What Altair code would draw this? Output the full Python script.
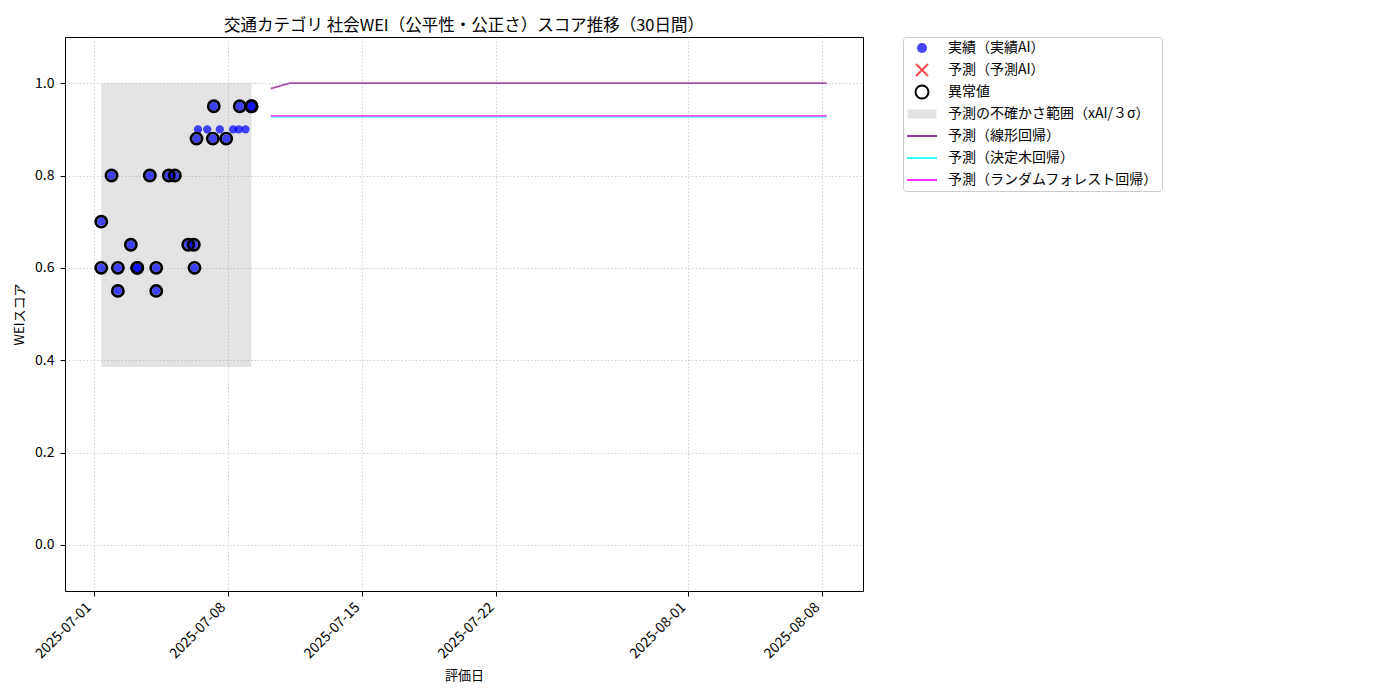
import altair as alt
import pandas as pd

FONT = "Noto Sans CJK JP"

# ---- actual scores (実績) ----
actual_dates = [
    "2025-07-01T09:23:00", "2025-07-01T09:23:00", "2025-07-01T22:16:00",
    "2025-07-02T06:10:00", "2025-07-02T06:10:00", "2025-07-02T22:25:00",
    "2025-07-03T06:26:00", "2025-07-03T06:26:00", "2025-07-03T22:12:00",
    "2025-07-04T06:13:00", "2025-07-04T06:13:00", "2025-07-04T21:59:00",
    "2025-07-05T05:28:00", "2025-07-05T22:15:00", "2025-07-06T05:15:00",
    "2025-07-06T06:07:00", "2025-07-06T08:37:00", "2025-07-06T10:30:00",
    "2025-07-06T22:02:00", "2025-07-07T05:02:00", "2025-07-07T06:17:00",
    "2025-07-07T13:48:00", "2025-07-07T21:48:00", "2025-07-08T06:33:00",
    "2025-07-08T13:34:00", "2025-07-08T14:48:00", "2025-07-08T21:56:00",
    "2025-07-09T05:27:00", "2025-07-09T05:27:00",
]
actual_scores = [
    0.70, 0.60, 0.80,
    0.60, 0.55, 0.65,
    0.60, 0.60, 0.80,
    0.60, 0.55, 0.80,
    0.80, 0.65, 0.65,
    0.60, 0.88, 0.90,
    0.90, 0.88, 0.95,
    0.90, 0.88, 0.90,
    0.90, 0.95, 0.90,
    0.95, 0.95,
]
actual_anomaly = [
    True, True, True,
    True, True, True,
    True, True, True,
    True, True, True,
    True, True, True,
    True, True, False,
    False, True, True,
    False, True, False,
    False, True, False,
    True, True,
]

# ---- uncertainty band ----
band_start = [actual_dates[0]]
band_end = [actual_dates[-1]]
band_low = [0.385]
band_high = [1.0]

# ---- forecasts (30 days) ----
forecast_dates = pd.date_range("2025-07-10 05:27", periods=30, freq="D").strftime("%Y-%m-%dT%H:%M:%S").tolist()
linear_values = [0.988] + [1.0] * 29
tree_values = [0.927] * 30
forest_values = [0.929] * 30

model_names = ["予測（線形回帰）", "予測（決定木回帰）", "予測（ランダムフォレスト回帰）"]
model_colors = ["#9a339a", "#33ffff", "#ff33ff"]

legend_labels = [
    "実績（実績AI）", "予測（予測AI）", "異常値", "予測の不確かさ範囲（xAI/３σ）",
    "予測（線形回帰）", "予測（決定木回帰）", "予測（ランダムフォレスト回帰）",
]
legend_shapes = [
    "circle",
    "M-1.2,-1.2L1.2,1.2M-1.2,1.2L1.2,-1.2",
    "M-1.3,0A1.3,1.3 0 1,0 1.3,0A1.3,1.3 0 1,0 -1.3,0Z",
    "M-2.9,-0.9H2.9V0.9H-2.9Z",
    "M-3,0H3", "M-3,0H3", "M-3,0H3",
]
legend_fills = ["#4545ff", "transparent", "transparent", "#e3e3e3",
                "transparent", "transparent", "transparent"]
legend_strokes = ["transparent", "#ff4d4d", "black", "transparent",
                  "#9a339a", "#33ffff", "#ff33ff"]

title_text = "交通カテゴリ 社会WEI（公平性・公正さ）スコア推移（30日間）"

# ---- tables ----
actual_df = pd.DataFrame({"評価日": actual_dates, "スコア": actual_scores, "異常": actual_anomaly})
band_df = pd.DataFrame({"start": band_start, "end": band_end, "low": band_low, "high": band_high})
fc_df = pd.DataFrame({
    "評価日": forecast_dates * 3,
    "スコア": linear_values + tree_values + forest_values,
    "モデル": [model_names[0]] * 30 + [model_names[1]] * 30 + [model_names[2]] * 30,
})
legend_df = pd.DataFrame({"凡例": legend_labels})

x_scale = alt.Scale(domain=[alt.DateTime(year=2025, month=6, date=29, hours=12),
                            alt.DateTime(year=2025, month=8, date=10, hours=3)])
y_scale = alt.Scale(domain=[-0.1, 1.1], nice=False, zero=False)

x_axis = alt.Axis(
    title="評価日",
    values=[alt.DateTime(year=2025, month=7, date=1), alt.DateTime(year=2025, month=7, date=8),
            alt.DateTime(year=2025, month=7, date=15), alt.DateTime(year=2025, month=7, date=22),
            alt.DateTime(year=2025, month=8, date=1), alt.DateTime(year=2025, month=8, date=8)],
    format="%Y-%m-%d", labelAngle=315, labelAlign="right", labelBaseline="middle",
    labelOffset=-5, labelPadding=9, titlePadding=9,
)
y_axis = alt.Axis(title="WEIスコア", values=[0.0, 0.2, 0.4, 0.6, 0.8, 1.0], format=".1f",
                  labelPadding=6, titlePadding=8)

band = alt.Chart(band_df).mark_rect(color="gray", opacity=0.22).encode(
    x=alt.X("start:T", scale=x_scale, axis=x_axis),
    x2="end:T",
    y=alt.Y("low:Q", scale=y_scale, axis=y_axis),
    y2="high:Q",
)

lines = alt.Chart(fc_df).mark_line(strokeWidth=1.8, opacity=0.85).encode(
    x=alt.X("評価日:T", scale=x_scale),
    y=alt.Y("スコア:Q", scale=y_scale),
    color=alt.Color("モデル:N", scale=alt.Scale(domain=[model_names[1], model_names[2], model_names[0]],
                                              range=[model_colors[1], model_colors[2], model_colors[0]]),
                    legend=None),
    order=alt.Order("評価日:T"),
)
tree_line = lines.transform_filter(alt.datum["モデル"] == model_names[1])
forest_line = lines.transform_filter(alt.datum["モデル"] == model_names[2])
linear_line = lines.transform_filter(alt.datum["モデル"] == model_names[0])

pts = alt.Chart(actual_df).mark_circle(size=70, color="blue", opacity=0.72).encode(
    x=alt.X("評価日:T", scale=x_scale),
    y=alt.Y("スコア:Q", scale=y_scale),
)

rings = alt.Chart(actual_df).transform_filter(alt.datum["異常"] == True).mark_point(
    shape="circle", size=125, color="black", strokeWidth=2.7, filled=False, opacity=1
).encode(
    x=alt.X("評価日:T", scale=x_scale),
    y=alt.Y("スコア:Q", scale=y_scale),
)

legend = alt.Legend(
    title=None, orient="none", legendX=838, legendY=0, gridAlign="all",
    strokeColor="#cccccc", fillColor="white", cornerRadius=3, padding=4, rowPadding=0,
    labelFont=FONT, labelFontSize=14, labelColor="black", labelLimit=500,
    symbolSize=100, symbolStrokeWidth=2, symbolOffset=8, labelOffset=19,
)
legend_layer = alt.Chart(legend_df).transform_filter("false").mark_point(opacity=1, filled=False).encode(
    shape=alt.Shape("凡例:N", scale=alt.Scale(domain=legend_labels, range=legend_shapes), legend=legend),
    fill=alt.Fill("凡例:N", scale=alt.Scale(domain=legend_labels, range=legend_fills), legend=legend),
    stroke=alt.Stroke("凡例:N", scale=alt.Scale(domain=legend_labels, range=legend_strokes), legend=legend),
)

chart = alt.layer(band, tree_line, forest_line, linear_line, pts, rings, legend_layer).properties(
    width=798, height=554,
    title=alt.TitleParams(title_text),
    autosize=alt.AutoSizeParams(type="none"),
    padding={"left": 57, "top": 29, "right": 330, "bottom": 95},
).configure_view(stroke="black", strokeWidth=1).configure_axis(
    domain=False, grid=True, gridColor="#c4c4c4", gridDash=[1.5, 2], gridWidth=0.8,
    tickColor="black", tickSize=5, tickWidth=1,
    labelFont=FONT, labelFontSize=14, labelColor="black",
    titleFont=FONT, titleFontSize=13, titleFontWeight="normal", titleColor="black",
).configure_title(font=FONT, fontSize=16.5, fontWeight="normal", anchor="middle", offset=2, color="black")

chart.save("out.html", embed_options={"renderer": "svg", "actions": False})
